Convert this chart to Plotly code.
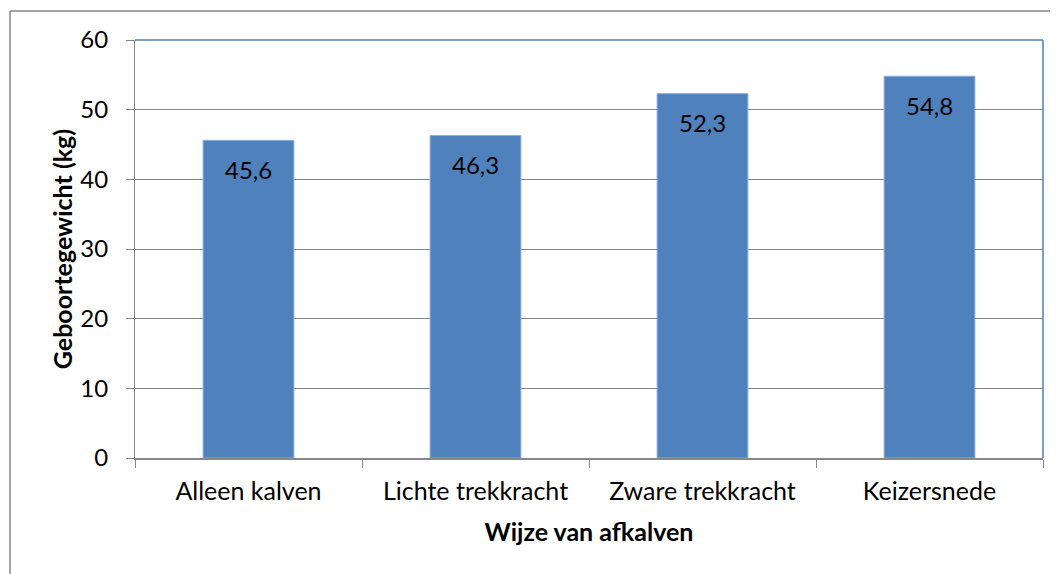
import plotly.graph_objects as go

categories = ["Alleen kalven", "Lichte trekkracht", "Zware trekkracht", "Keizersnede"]
values = [45.6, 46.3, 52.3, 54.8]
labels = ["45,6", "46,3", "52,3", "54,8"]
y_ticks = [0, 10, 20, 30, 40, 50, 60]

# page body adds an 8px offset; compensate so the plot sits where the reference has it
OFF = 8
W, H = 1058 - OFF, 574 - OFF
L, R, T, B = 135 - OFF, 15, 40 - OFF, 116
pw, ph = W - L - R, H - T - B

def px_x(x):
    return (x - OFF - L) / pw

def px_y(y):
    return (H - B - (y - OFF)) / ph

FONT = "Lato"
fig = go.Figure(go.Bar(
    x=categories, y=values,
    marker=dict(color="#4F81BD", line=dict(color="#8DAEDB", width=1)),
    width=0.4, hoverinfo="skip",
))

for c, v, t in zip(categories, values, labels):
    fig.add_annotation(x=c, y=v, text=t, showarrow=False, yanchor="middle",
                       yshift=-29, font=dict(family=FONT, size=24, color="black"))

fig.update_layout(
    width=W, height=H,
    margin=dict(l=L, r=R, t=T, b=B),
    plot_bgcolor="white", paper_bgcolor="white",
    showlegend=False,
    font=dict(family=FONT, size=24, color="black"),
    xaxis=dict(
        tickson="boundaries", ticks="outside", ticklen=8, tickcolor="#868686",
        showline=True, linecolor="#868686", linewidth=2,
        showgrid=False, tickfont=dict(size=25), ticklabelstandoff=10,
        title=dict(text="<b>Wijze van afkalven</b>", font=dict(size=25), standoff=19),
    ),
    yaxis=dict(
        range=[0, 60], tickvals=y_ticks, ticks="outside", ticklen=8, tickcolor="#868686",
        showline=True, linecolor="#868686", linewidth=1,
        showgrid=True, gridcolor="#868686", gridwidth=1, zeroline=False,
        tickfont=dict(size=24), ticklabelstandoff=13,
        title=dict(text="<b>Geboortegewicht (kg)</b>", font=dict(size=25), standoff=0),
    ),
    shapes=[
        dict(type="line", xref="paper", yref="paper", x0=0, x1=1, y0=1, y1=1,
             line=dict(color="#4F81BD", width=1.5)),
        dict(type="line", xref="paper", yref="paper", x0=1, x1=1, y0=0, y1=1,
             line=dict(color="#4F81BD", width=1.5)),
        dict(type="line", xref="paper", yref="paper", x0=px_x(10), x1=px_x(1070),
             y0=px_y(11), y1=px_y(11), line=dict(color="#868686", width=1.5)),
        dict(type="line", xref="paper", yref="paper", x0=px_x(10), x1=px_x(10),
             y0=px_y(11), y1=px_y(590), line=dict(color="#868686", width=1.5)),
    ],
)

fig.write_html("out.html")
